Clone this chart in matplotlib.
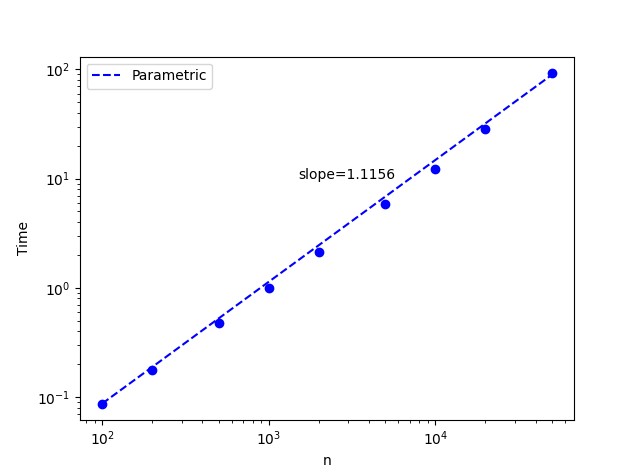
import numpy as np
import matplotlib
matplotlib.use('Agg')
import matplotlib.pyplot as plt

### Data
n = np.array([100, 200, 500, 1000, 2000, 5000, 10000, 20000, 50000])
time = np.array([0.087, 0.178, 0.48, 0.99, 2.12, 5.8, 12.3, 28.6, 92.5])

# parametric fit (log10 T = slope * log10 n + intercept)
fit_slope = 1.1156
fit_intercept = -3.292
slope_text = 'slope=1.1156'

fit = 10 ** (fit_slope * np.log10(n) + fit_intercept)

### Plot
fig = plt.figure(figsize=(6.38, 4.72), dpi=100)
ax = plt.subplot(111)

ax.plot(n, time, 'bo')
ax.plot(n, fit, 'b--', label='Parametric')

ax.set_xscale('log')
ax.set_yscale('log')

ax.text(1500, 10, slope_text)

ax.set_xlabel('n')
ax.set_ylabel('Time')
ax.legend(loc='upper left')

plt.savefig('out.png', dpi=100)
